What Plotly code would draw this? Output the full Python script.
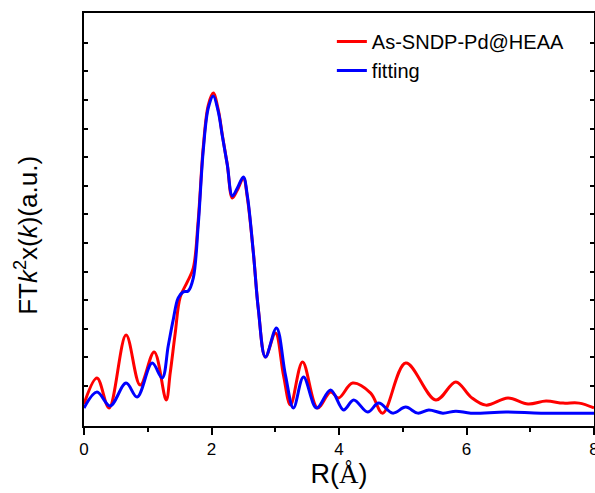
import plotly.graph_objects as go

# Measured data (R in Å, intensity in a.u.)
r_exp = [0.0, 0.204, 0.393, 0.660, 0.881, 1.101, 1.289, 1.352, 1.431, 1.509, 1.619, 1.714,
         1.792, 1.871, 1.950, 2.028, 2.107, 2.170, 2.248, 2.327, 2.406, 2.500, 2.563, 2.657,
         2.736, 2.846, 3.003, 3.129, 3.239, 3.428, 3.664, 3.868, 3.994, 4.214, 4.497, 4.686,
         5.047, 5.519, 5.833, 6.069, 6.305, 6.651, 6.965, 7.248, 7.516, 7.767, 8.0]
ft_exp = [0.77, 1.68, 0.63, 3.18, 1.43, 2.59, 0.91, 1.85, 3.25, 4.51, 5.03, 5.52,
          7.20, 9.76, 11.22, 11.64, 11.05, 10.17, 9.13, 7.97, 8.25, 8.67, 7.97, 6.05,
          4.06, 2.41, 3.25, 1.78, 0.73, 2.24, 0.63, 1.19, 0.98, 1.50, 1.15, 0.45,
          2.20, 0.91, 1.54, 1.01, 0.73, 0.98, 0.77, 0.87, 0.80, 0.80, 0.63]

r_fit = [0.0, 0.204, 0.409, 0.660, 0.833, 1.069, 1.226, 1.321, 1.399, 1.478, 1.557, 1.635,
         1.714, 1.792, 1.871, 1.950, 2.028, 2.107, 2.170, 2.248, 2.327, 2.406, 2.500, 2.563,
         2.657, 2.736, 2.846, 3.019, 3.160, 3.286, 3.443, 3.648, 3.868, 4.072, 4.230, 4.450,
         4.623, 4.843, 5.047, 5.236, 5.409, 5.629, 5.833, 6.069, 6.62, 7.17, 8.0]
ft_fit = [0.63, 1.19, 0.70, 1.50, 1.01, 2.20, 1.68, 2.80, 3.71, 4.48, 4.69, 4.72,
          5.17, 7.03, 9.65, 11.12, 11.54, 10.98, 10.14, 9.13, 8.04, 8.32, 8.71, 8.04,
          6.05, 4.06, 2.41, 3.43, 1.78, 0.63, 1.71, 0.63, 1.26, 0.56, 0.91, 0.49,
          0.80, 0.45, 0.66, 0.45, 0.56, 0.45, 0.52, 0.45, 0.49, 0.45, 0.45]

x_ticks = [0, 2, 4, 6, 8]
name_exp = "As-SNDP-Pd@HEAA"
name_fit = "fitting"
y_title = "FT<i>k</i><sup>2</sup>x(<i>k</i>)(a.u.)"
x_title = 'R(<span style="font-family:Liberation Serif, Times New Roman, serif">Å</span>)'

fig = go.Figure()
fig.add_trace(go.Scatter(x=r_exp, y=ft_exp, mode="lines", name=name_exp,
                         line=dict(color="#FF0000", width=3, shape="spline", smoothing=1.0)))
fig.add_trace(go.Scatter(x=r_fit, y=ft_fit, mode="lines", name=name_fit,
                         line=dict(color="#0000FF", width=3, shape="spline", smoothing=1.0)))

font_family = "Liberation Sans, Arial, sans-serif"

fig.update_layout(
    width=595, height=493,
    margin=dict(l=84, r=1, t=13, b=67),
    paper_bgcolor="white", plot_bgcolor="white",
    font=dict(family=font_family, color="black"),
    showlegend=True,
    legend=dict(x=0.486, y=0.978, xanchor="left", yanchor="top",
                bgcolor="rgba(0,0,0,0)", font=dict(size=20, family=font_family),
                tracegroupgap=0),
    xaxis=dict(
        range=[0, 8], tickvals=x_ticks, ticktext=[str(t) for t in x_ticks],
        ticklabeloverflow="allow", automargin=False,
        showline=True, linecolor="black", linewidth=2, mirror=True,
        ticks="outside", ticklen=7, tickwidth=2, tickcolor="black",
        minor=dict(dtick=1, tick0=0, ticks="outside", ticklen=4, tickwidth=2, tickcolor="black"),
        showgrid=False, zeroline=False,
        tickfont=dict(size=17),
        title=dict(text=x_title, font=dict(size=27), standoff=6),
    ),
    yaxis=dict(
        range=[0, 14.44], tickmode="array", tickvals=[1.4 + k for k in range(13)],
        showticklabels=False, automargin=False,
        showline=True, linecolor="black", linewidth=2, mirror="ticks",
        ticks="inside", ticklen=4, tickwidth=1.5, tickcolor="black",
        showgrid=False, zeroline=False,
    ),
    annotations=[dict(text=y_title, textangle=-90, xref="paper", yref="paper",
                      x=-0.112, y=0.4625, xanchor="center", yanchor="middle",
                      showarrow=False, font=dict(size=26, family=font_family))],
)

fig.write_html("out.html")
